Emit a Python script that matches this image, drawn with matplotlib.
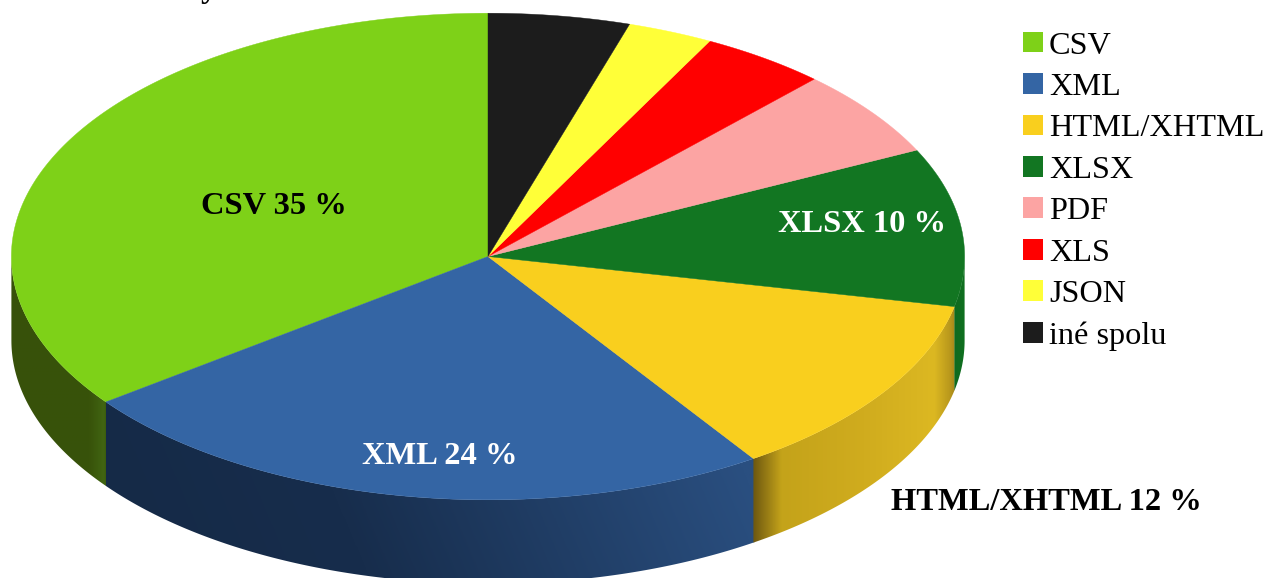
import numpy as np
import matplotlib
matplotlib.use("Agg")
import matplotlib.pyplot as plt
from matplotlib.colors import LinearSegmentedColormap
from matplotlib.patches import Patch, Polygon

# Data
categories = ["CSV", "XML", "HTML/XHTML", "XLSX", "PDF", "XLS", "JSON", "iné spolu"]
values = [35.2, 24.2, 12.3, 10.5, 5.8, 4.3, 2.9, 4.8]
colors = ["#7ed118", "#3465a4", "#f9cf1e", "#127622", "#fca4a3", "#ff0000", "#ffff38", "#1c1c1c"]
label_names = ["CSV", "XML", "HTML/XHTML", "XLSX"]
label_percents = [35, 24, 12, 10]
label_colors = ["black", "white", "black", "white"]
label_pos = [(273.5, 206), (440, 456.5), (1046, 502), (862, 224)]

# Side shading: (fraction across the slice's visible width, colour)
side_stops = {
    "CSV": [(0, "#37510a"), (0.82, "#38530a"), (0.97, "#416512"), (1, "#3a5a0c")],
    "XML": [(0, "#152a47"), (0.35, "#172d4c"), (1, "#2a4f80")],
    "HTML/XHTML": [(0, "#6e5810"), (0.14, "#c4a31a"), (0.55, "#d0ac1e"), (0.9, "#dcb822"), (0.98, "#b8971c"), (1, "#a8891a")],
    "XLSX": [(0, "#0f6a20"), (1, "#10701f")],
}
side_tilt = {"CSV": 0.0, "XML": 0.12, "HTML/XHTML": 0.0, "XLSX": 0.0}

W, H = 1266, 578
CX, CY, RX, RY, DEPTH = 488, 256.5, 476.6, 243.3, 84

fig = plt.figure(figsize=(W / 100, H / 100), dpi=100)
ax = fig.add_axes([0, 0, 1, 1])
plt.rcParams["font.family"] = ["Liberation Serif", "DejaVu Serif"]


def rim(theta_deg):
    t = np.radians(theta_deg)
    return CX + RX * np.sin(t), CY - RY * np.cos(t)


# Slices run counter-clockwise from the top
edges = np.concatenate([[0], np.cumsum(values)]) / np.sum(values) * 360
spans = [(360 - b, 360 - a) for a, b in zip(edges[:-1], edges[1:])]

# Sides (only the front half of the rim shows)
for name, (a, b) in zip(categories, spans):
    lo, hi = max(a, 90), min(b, 270)
    if lo >= hi or name not in side_stops:
        continue
    th = np.linspace(lo - 0.15, hi, 300)
    x, y = rim(th)
    pts = np.column_stack([np.r_[x, x[::-1]], np.r_[y, y[::-1] + DEPTH]])
    clip = Polygon(pts, closed=True, facecolor="none", edgecolor="none", transform=ax.transData)
    ax.add_patch(clip)
    x0, x1, y0, y1 = pts[:, 0].min(), pts[:, 0].max(), pts[:, 1].min(), pts[:, 1].max()
    xx, yy = np.meshgrid(np.linspace(0, 1, 600), np.linspace(0, 1, 200))
    t = np.clip(xx + side_tilt[name] * (0.5 - yy), 0, 1)
    cmap = LinearSegmentedColormap.from_list(name, side_stops[name])
    im = ax.imshow(t, cmap=cmap, vmin=0, vmax=1, extent=(x0, x1, y1, y0), aspect="auto",
                   interpolation="bilinear", zorder=1)
    im.set_clip_path(clip)

# Top face
for col, (a, b) in zip(colors, spans):
    th = np.linspace(a, b, max(int(b - a) * 3, 8))
    x, y = rim(th)
    pts = np.column_stack([np.r_[CX, x], np.r_[CY, y]])
    ax.add_patch(Polygon(pts, closed=True, facecolor=col, edgecolor=col, linewidth=0.3, zorder=2))

# Slice labels
for name, pct, col, (lx, ly) in zip(label_names, label_percents, label_colors, label_pos):
    ax.text(lx, ly, f"{name} {pct} %", color=col, fontsize=23.4, fontweight="bold",
            ha="center", va="center", zorder=3)

# Descender of the cut-off title at the top edge
ax.text(201, -3.5, "y", color="black", fontsize=23.4, fontweight="bold", ha="left", va="baseline", clip_on=True)

handles = [Patch(facecolor=c, edgecolor=c, linewidth=0) for c in colors]
leg = ax.legend(handles, categories, loc="upper left", bbox_to_anchor=(1023 / W, 1 - 31.5 / H),
                bbox_transform=fig.transFigure, frameon=False, fontsize=23.2,
                handlelength=0.61, handleheight=0.61, handletextpad=0.2,
                labelspacing=0.385, borderpad=0, borderaxespad=0)

ax.set_xlim(0, W)
ax.set_ylim(H, 0)
ax.axis("off")
fig.savefig("out.png", dpi=100)
